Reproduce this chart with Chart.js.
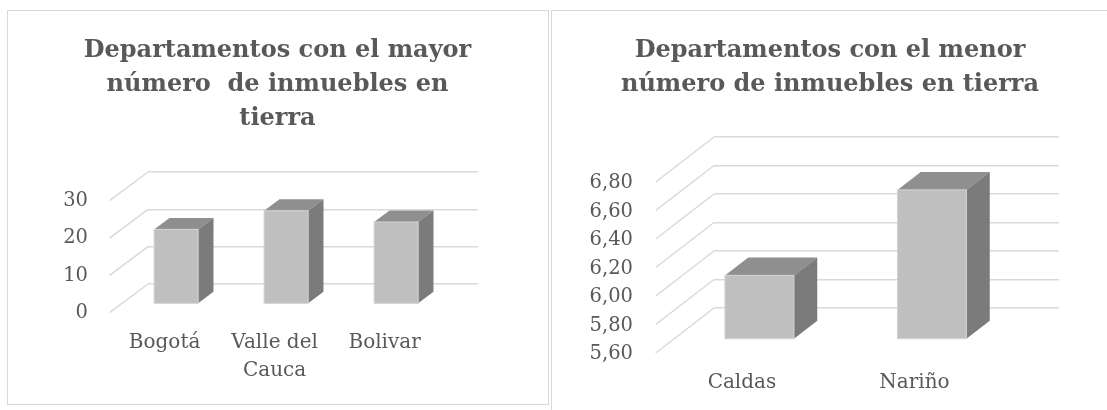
<!DOCTYPE html>
<html>
<head>
<meta charset="utf-8">
<script src="https://cdn.jsdelivr.net/npm/chart.js@4.4.1/dist/chart.umd.min.js"></script>
<style>
  html, body { margin: 0; padding: 0; background: #fff; }
  body { width: 1107px; height: 410px; position: relative; overflow: hidden; }
  .panel { position: absolute; box-sizing: border-box; }
  #panelIzq { left: 7px; top: 10px; width: 542px; height: 395px; border: 1px solid #d9d9d9; }
  #panelDer { left: 551px; top: 10px; width: 570px; height: 420px; border-left: 1px solid #d9d9d9; border-top: 1px solid #d9d9d9; }
  canvas { position: absolute; }
  #graficoMayor { left: 8px; top: 11px; }
  #graficoMenor { left: 553px; top: 11px; }
</style>
</head>
<body>
<div class="panel" id="panelIzq"></div>
<div class="panel" id="panelDer"></div>
<canvas id="graficoMayor" width="539" height="392"></canvas>
<canvas id="graficoMenor" width="554" height="399"></canvas>
<script>
// datos
const tituloMayor = ['Departamentos con el mayor', 'número  de inmuebles en', 'tierra'];
const categoriasMayor = ['Bogotá', ['Valle del', 'Cauca'], 'Bolivar'];
const valoresMayor = [20, 25, 22];
const ticksMayor = [0, 10, 20, 30];

const tituloMenor = ['Departamentos con el menor', 'número de inmuebles en tierra'];
const categoriasMenor = ['Caldas', 'Nariño'];
const valoresMenor = [6.05, 6.65];
const ticksMenor = [5.6, 5.8, 6.0, 6.2, 6.4, 6.6, 6.8];

const GRIS_TEXTO = '#595959';
const GRIS_GRID = '#d9d9d9';
const SERIF = "'DejaVu Serif', serif";

Chart.defaults.font.family = SERIF;
Chart.defaults.color = GRIS_TEXTO;

// pared lateral + barras en 3D; prof = [dx, dy] del fondo hacia el frente
function barras3d(prof) {
    const [dx, dy] = prof;
    return {
        id: 'barras3d',
        beforeDatasetsDraw(chart) {
            const { ctx, chartArea, scales } = chart;
            ctx.save();
            ctx.strokeStyle = GRIS_GRID;
            ctx.lineWidth = 1.5;
            scales.y.ticks.forEach(t => {
                const py = scales.y.getPixelForValue(t.value);
                ctx.beginPath();
                ctx.moveTo(chartArea.left, py);
                ctx.lineTo(chartArea.left + dx, py + dy);
                ctx.stroke();
            });
            ctx.restore();
        },
        afterDatasetsDraw(chart) {
            const { ctx } = chart;
            const fx = dx * 0.7, fy = dy * 0.7;     // cara frontal
            const px = -dx * 0.4, py = -dy * 0.4;   // fondo de la barra
            ctx.save();
            chart.getDatasetMeta(0).data.forEach(bar => {
                const x0 = bar.x - bar.width / 2 + fx;
                const x1 = bar.x + bar.width / 2 + fx;
                const top = bar.y + fy;
                const base = bar.base + fy;

                ctx.fillStyle = '#8f8f8f';
                ctx.beginPath();
                ctx.moveTo(x0, top);
                ctx.lineTo(x1, top);
                ctx.lineTo(x1 + px, top + py);
                ctx.lineTo(x0 + px, top + py);
                ctx.closePath();
                ctx.fill();

                ctx.fillStyle = '#7b7b7b';
                ctx.beginPath();
                ctx.moveTo(x1, top);
                ctx.lineTo(x1 + px, top + py);
                ctx.lineTo(x1 + px, base + py);
                ctx.lineTo(x1, base);
                ctx.closePath();
                ctx.fill();

                ctx.fillStyle = '#bfbfbf';
                ctx.fillRect(x0, top, x1 - x0, base - top);
                ctx.strokeStyle = '#d3d3d3';
                ctx.lineWidth = 1;
                ctx.strokeRect(x0, top, x1 - x0, base - top);
            });
            ctx.restore();
        }
    };
}

function crearGrafico(canvasId, o) {
    return new Chart(document.getElementById(canvasId), {
        type: 'bar',
        data: {
            labels: o.categorias,
            datasets: [{
                data: o.valores,
                yAxisID: 'y',
                base: o.ticks[0],
                backgroundColor: 'rgba(0,0,0,0)',
                borderWidth: 0,
                categoryPercentage: 1,
                barPercentage: 0.4
            }]
        },
        options: {
            responsive: false,
            animation: false,
            devicePixelRatio: 1,
            events: [],
            plugins: {
                legend: { display: false },
                tooltip: { enabled: false },
                title: {
                    display: true,
                    text: o.titulo,
                    color: GRIS_TEXTO,
                    font: { family: SERIF, size: 24, weight: 'bold', lineHeight: '34px' },
                    padding: { top: o.tituloArriba, bottom: o.tituloAbajo }
                }
            },
            scales: {
                x: {
                    grid: { display: false, drawTicks: false },
                    border: { display: false },
                    ticks: {
                        color: GRIS_TEXTO,
                        font: { size: 20, lineHeight: '28px' },
                        padding: o.padX,
                        labelOffset: o.prof[0],
                        maxRotation: 0,
                        autoSkip: false
                    },
                    afterFit: s => { s.height = o.altoX; }
                },
                y: {
                    min: o.ticks[0],
                    max: o.ticks[o.ticks.length - 1],
                    grid: { color: GRIS_GRID, lineWidth: 1.5, drawTicks: false },
                    border: { display: false },
                    ticks: {
                        color: GRIS_TEXTO,
                        font: { size: 19.5 },
                        padding: o.padY,
                        labelOffset: o.offY,
                        callback: o.formato
                    },
                    afterBuildTicks: s => { s.ticks = o.ticks.map(v => ({ value: v })); },
                    afterFit: s => { s.width = o.anchoY; }
                },
                relleno: {
                    type: 'linear',
                    position: 'right',
                    display: true,
                    grid: { display: false, drawTicks: false },
                    border: { display: false },
                    ticks: { display: false },
                    afterFit: s => { s.width = o.anchoDer; }
                }
            }
        },
        plugins: [barras3d(o.prof)]
    });
}

crearGrafico('graficoMayor', {
    titulo: tituloMayor,
    categorias: categoriasMayor,
    valores: valoresMayor,
    ticks: ticksMayor,
    formato: v => String(v),
    tituloArriba: 23,
    tituloAbajo: 36,
    anchoY: 140,
    anchoDer: 69,
    altoX: 119,
    padY: 60,
    offY: 29,
    padX: 45,
    prof: [-38.4, 28.7]
});

crearGrafico('graficoMenor', {
    titulo: tituloMenor,
    categorias: categoriasMenor,
    valores: valoresMenor,
    ticks: ticksMenor,
    formato: v => v.toFixed(2).replace('.', ','),
    tituloArriba: 23,
    tituloAbajo: 35,
    anchoY: 161,
    anchoDer: 48,
    altoX: 102,
    padY: 81,
    offY: 46,
    padX: 61,
    prof: [-58.3, 45]
});
</script>
</body>
</html>
